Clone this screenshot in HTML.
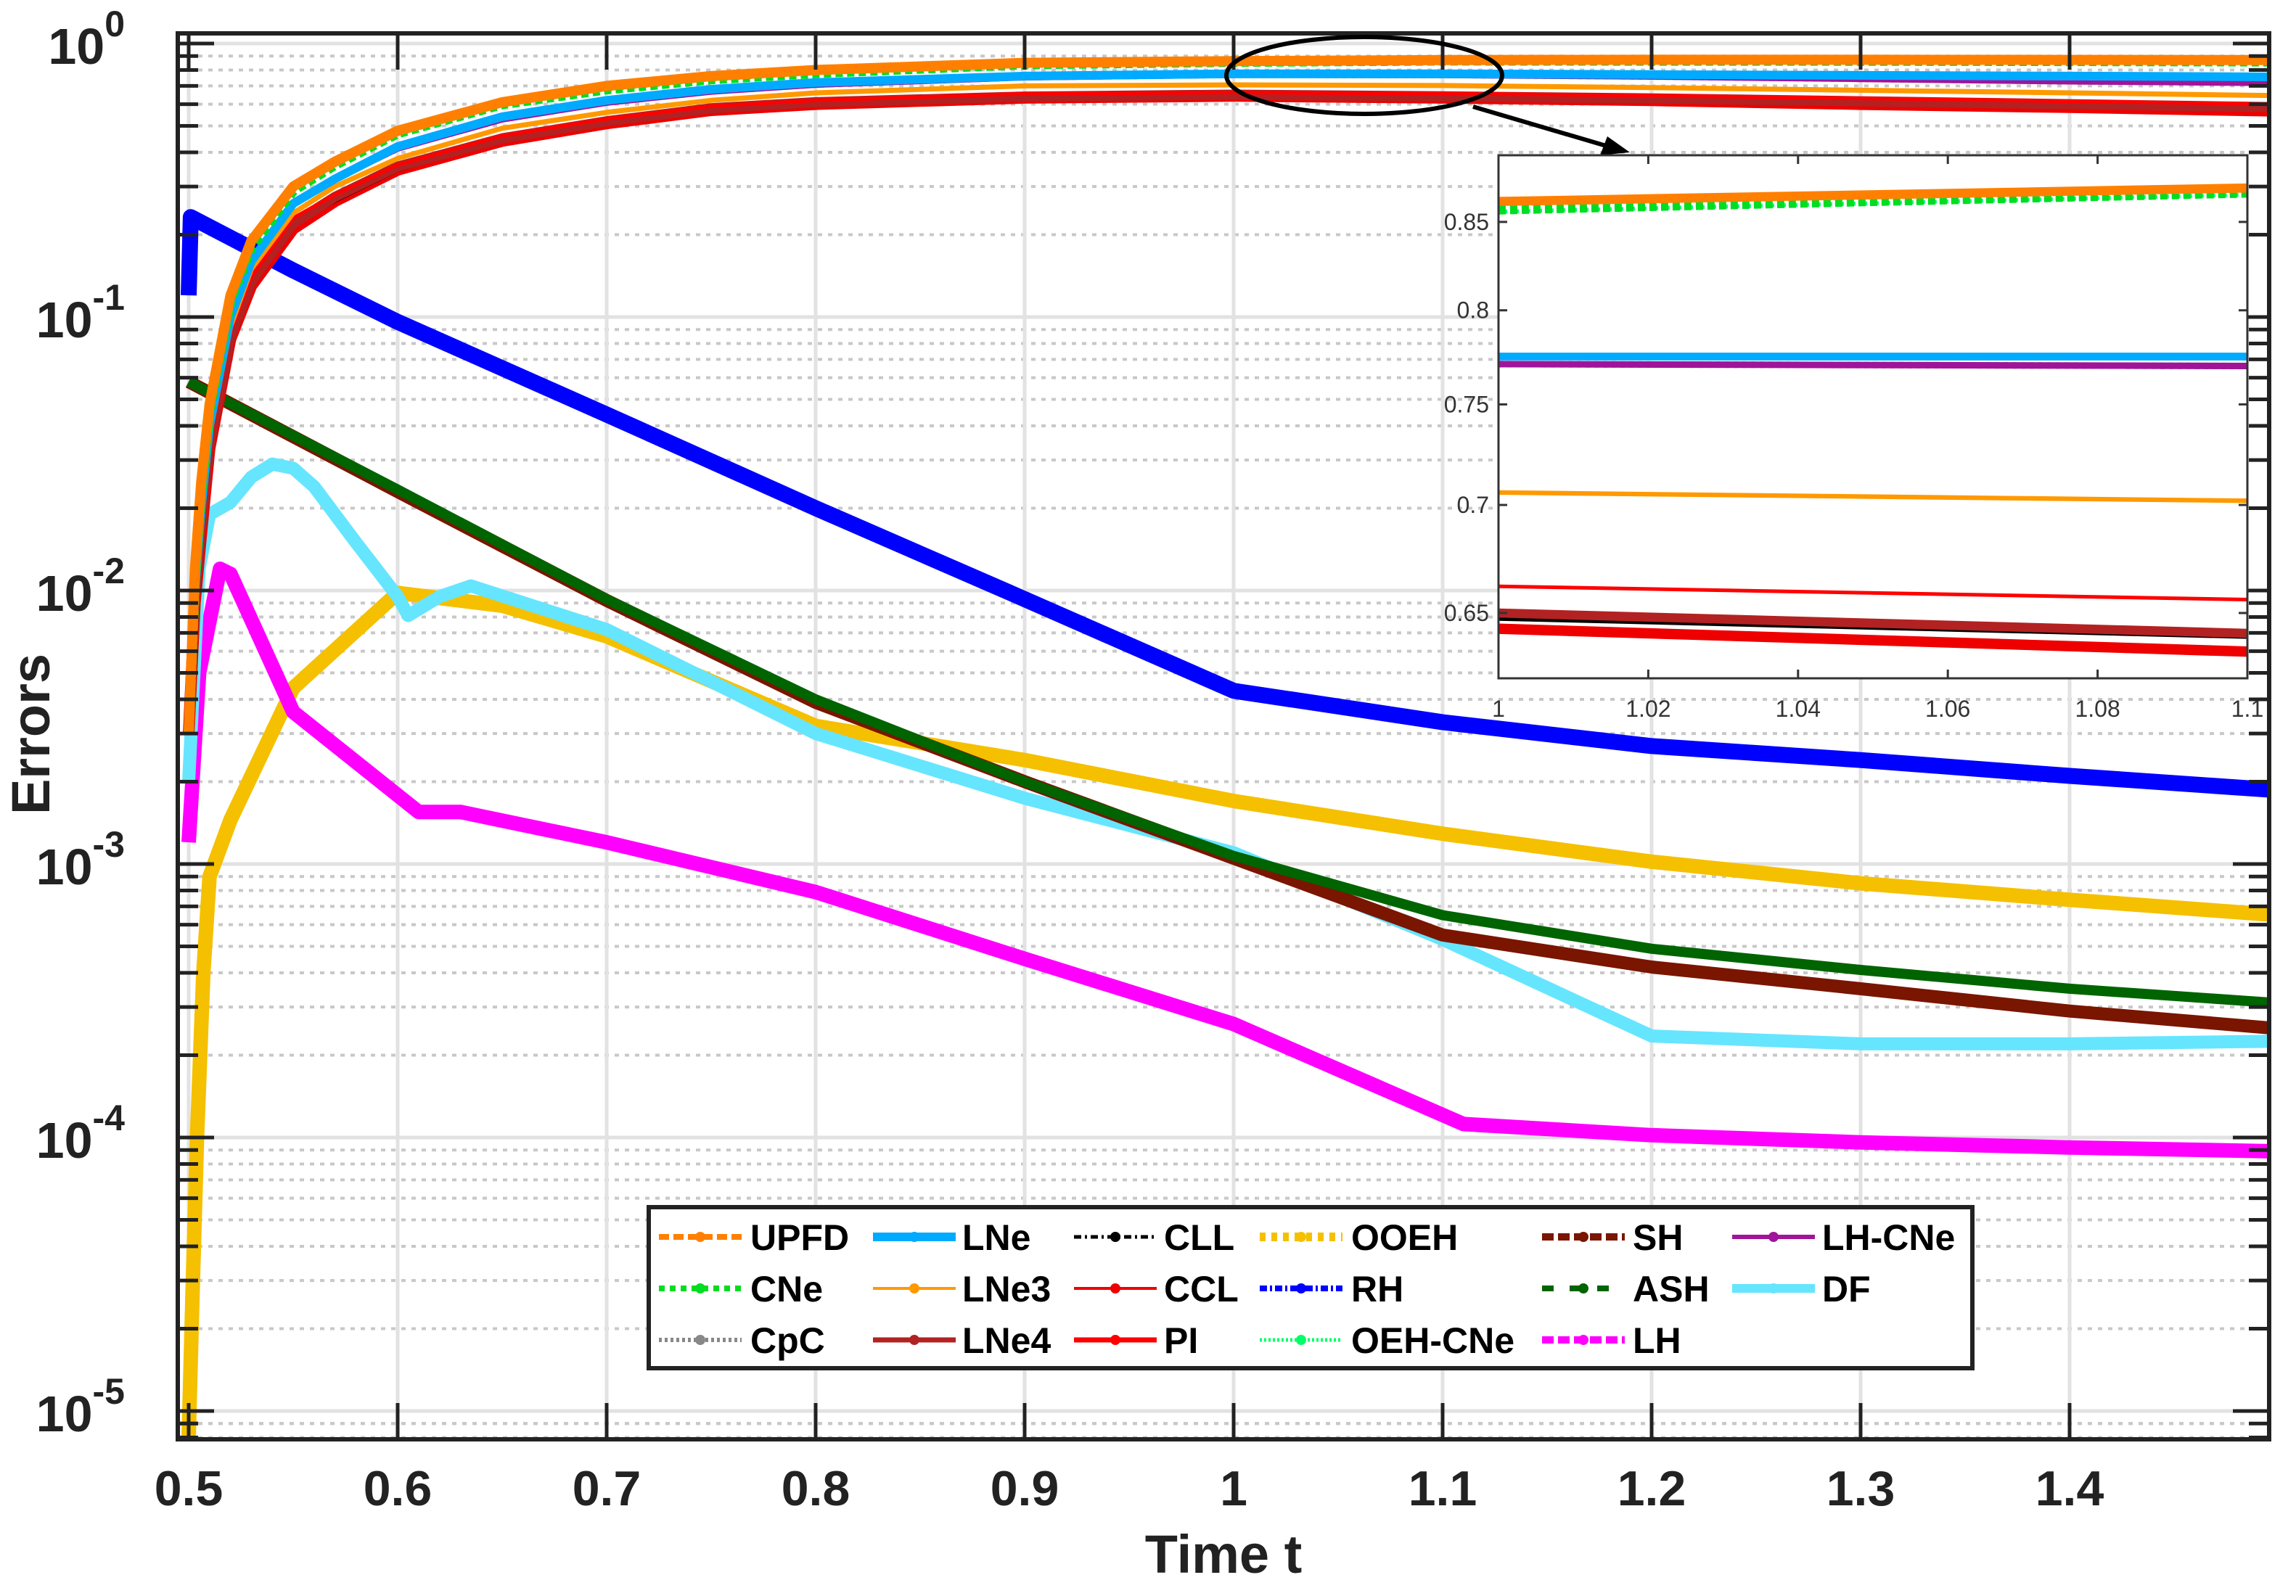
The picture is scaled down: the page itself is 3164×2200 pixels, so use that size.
<!DOCTYPE html>
<html><head><meta charset="utf-8"><style>
html,body{margin:0;padding:0;background:#fff;width:3164px;height:2200px;overflow:hidden}
svg{display:block}
text{font-family:"Liberation Sans",Arial,sans-serif}
</style></head><body>
<svg id="chart" width="3164" height="2200" viewBox="0 0 3164 2200" xmlns="http://www.w3.org/2000/svg">
<defs>
<clipPath id="plotClip"><rect x="245" y="46" width="2882" height="1938"/></clipPath>
<clipPath id="insetClip"><rect x="2065" y="214" width="1032" height="721"/></clipPath>
</defs>
<rect x="0" y="0" width="3164" height="2200" fill="#fff"/>
<g id="grid"></g>
<g id="series" clip-path="url(#plotClip)"></g>
<g id="axes"></g>
<g id="inset"></g>
<g id="legend"></g>
</svg>
<script>
// ---------- data ----------
const xTicks = [0.5,0.6,0.7,0.8,0.9,1.0,1.1,1.2,1.3,1.4];
const xTickLabels = ["0.5","0.6","0.7","0.8","0.9","1","1.1","1.2","1.3","1.4"];
const yDecades = [0,-1,-2,-3,-4,-5];
const insetYTicks = [0.85,0.8,0.75,0.7,0.65];
const insetYLabels = ["0.85","0.8","0.75","0.7","0.65"];
const insetXTicks = [1,1.02,1.04,1.06,1.08,1.1];
const insetXLabels = ["1","1.02","1.04","1.06","1.08","1.1"];

const tUp = [0.5,0.503,0.506,0.51,0.52,0.53,0.55,0.57,0.6,0.65,0.7,0.75,0.8,0.9,1.0,1.1,1.2,1.3,1.4,1.5];
const valUPFD  = [0.003,0.012,0.025,0.048,0.12,0.19,0.30,0.37,0.48,0.61,0.70,0.76,0.80,0.85,0.862,0.870,0.872,0.872,0.871,0.870];
const valCNe   = [0.003,0.011,0.023,0.045,0.115,0.18,0.29,0.36,0.47,0.60,0.68,0.74,0.78,0.84,0.857,0.867,0.866,0.865,0.863,0.860];
const valOEHCNe= [0.003,0.011,0.023,0.045,0.114,0.18,0.29,0.36,0.47,0.60,0.68,0.74,0.78,0.84,0.856,0.866,0.865,0.864,0.862,0.859];
const valLNe   = [0.003,0.010,0.020,0.040,0.100,0.16,0.26,0.32,0.42,0.54,0.62,0.68,0.72,0.76,0.775,0.775,0.770,0.765,0.760,0.755];
const valLHCNe = [0.003,0.010,0.020,0.040,0.100,0.16,0.26,0.32,0.415,0.53,0.61,0.67,0.71,0.755,0.771,0.770,0.760,0.745,0.730,0.720];
const valCpC   = [0.003,0.010,0.020,0.040,0.100,0.16,0.26,0.32,0.415,0.53,0.61,0.67,0.71,0.755,0.771,0.770,0.760,0.745,0.730,0.720];
const valLNe3  = [0.003,0.010,0.019,0.037,0.092,0.15,0.24,0.30,0.38,0.49,0.56,0.62,0.66,0.70,0.706,0.702,0.690,0.675,0.660,0.645];
const valPI    = [0.003,0.009,0.018,0.035,0.088,0.14,0.23,0.28,0.36,0.46,0.53,0.59,0.62,0.655,0.662,0.656,0.645,0.630,0.615,0.600];
const valLNe4  = [0.003,0.009,0.017,0.034,0.085,0.135,0.22,0.275,0.355,0.45,0.52,0.58,0.61,0.64,0.650,0.641,0.630,0.615,0.600,0.585];
const valCLL   = [0.003,0.009,0.017,0.034,0.084,0.133,0.22,0.27,0.35,0.45,0.52,0.575,0.61,0.638,0.648,0.640,0.628,0.612,0.595,0.580];
const valCCL   = [0.003,0.009,0.016,0.033,0.083,0.13,0.21,0.265,0.345,0.44,0.51,0.57,0.60,0.633,0.643,0.633,0.620,0.600,0.585,0.567];

const tRH = [0.5,0.501,0.55,0.6,0.7,0.8,0.9,1.0,1.1,1.2,1.3,1.4,1.5];
const valRH = [0.12,0.232,0.148,0.096,0.044,0.020,0.0093,0.0043,0.0033,0.0027,0.0024,0.0021,0.00186];

const tASH = [0.5,0.6,0.7,0.8,0.9,1.0,1.1,1.2,1.3,1.4,1.5];
const valASH = [0.058,0.0234,0.0093,0.0040,0.0020,0.00107,0.00065,0.00049,0.00041,0.00035,0.00031];
const valSH  = [0.058,0.0230,0.0092,0.0039,0.0020,0.00105,0.00055,0.00042,0.00035,0.00029,0.00025];

const tDF = [0.5,0.505,0.51,0.52,0.53,0.54,0.55,0.56,0.58,0.6,0.605,0.62,0.635,0.7,0.8,0.9,1.0,1.1,1.2,1.3,1.4,1.5];
const valDF = [0.002,0.012,0.019,0.021,0.026,0.029,0.028,0.024,0.015,0.0095,0.0081,0.0095,0.0104,0.0072,0.0030,0.00174,0.0011,0.00053,0.000235,0.00022,0.00022,0.000225];

const tOOEH = [0.5,0.502,0.504,0.507,0.51,0.52,0.55,0.6,0.65,0.7,0.8,0.9,1.0,1.1,1.2,1.3,1.4,1.5];
const valOOEH = [0.000008,0.00003,0.0001,0.0004,0.0009,0.00145,0.0044,0.0098,0.0088,0.0068,0.0032,0.0024,0.0017,0.00129,0.00102,0.00085,0.00074,0.00065];

const tLH = [0.5,0.505,0.515,0.52,0.55,0.61,0.63,0.7,0.8,0.9,1.0,1.11,1.2,1.3,1.4,1.5];
const valLH = [0.0012,0.005,0.012,0.0115,0.0036,0.00155,0.00155,0.0012,0.00079,0.00045,0.00026,0.000112,0.000102,0.000096,0.000092,0.000089];

// ---------- scales ----------
const X0=260, XS=2880;
const Y0=60, YD=377;
function xs(t){return X0+(t-0.5)*XS;}
function ys(v){return Y0-Math.log10(v)*YD;}
const IX0=2065, IXW=1032, IY0=306, IYD=4627;
function ixs(t){return IX0+(t-1)/0.1*IXW;}
function iys(v){return IY0+IYD*(-0.0706-Math.log10(v));}

const NS="http://www.w3.org/2000/svg";
function mk(tag,attrs,parent){const e=document.createElementNS(NS,tag);for(const k in attrs)e.setAttribute(k,attrs[k]);parent.appendChild(e);return e;}

const grid=document.getElementById('grid');
const axes=document.getElementById('axes');
const series=document.getElementById('series');
const inset=document.getElementById('inset');
const legend=document.getElementById('legend');
const L=245,R=3127,T=46,B=1984;

for(let d=0; d>=-5; d--){
  const y=ys(Math.pow(10,d));
  const gl=mk('line',{x1:L,x2:R,y1:y,y2:y,stroke:'#e2e2e2','stroke-width':5},grid);
  
  
  for(let m=2;m<=9;m++){
    const yy=ys(m*Math.pow(10,d-1));
    if(yy<T||yy>B) continue;
    const ml=mk('line',{x1:L,x2:R,y1:yy,y2:yy,stroke:'#c8c8c8','stroke-width':4,'stroke-dasharray':'6 8'},grid);
    
    
  }
}
for(let m=2;m<=9;m++){
  const yy=ys(m*1e-6); if(yy<T||yy>B) continue;
  const ml=mk('line',{x1:L,x2:R,y1:yy,y2:yy,stroke:'#c8c8c8','stroke-width':4,'stroke-dasharray':'6 8'},grid);
  
  
}
xTicks.forEach(t=>{
  const x=xs(t);
  const vl=mk('line',{x1:x,x2:x,y1:T,y2:B,stroke:'#e2e2e2','stroke-width':5},grid);
  
  
});

function path(ts,vs,fx,fy){return ts.map((t,i)=>(i?'L':'M')+fx(t).toFixed(1)+' '+fy(vs[i]).toFixed(1)).join(' ');}
const mainSeries=[
 {n:'OOEH',t:tOOEH,v:valOOEH,c:'#f5c000',w:20,d:''},
 {n:'LH',t:tLH,v:valLH,c:'#ff00ff',w:20,d:''},
 {n:'DF',t:tDF,v:valDF,c:'#66e5ff',w:18,d:''},
 {n:'SH',t:tASH,v:valSH,c:'#7a1500',w:18,d:''},
 {n:'ASH',t:tASH,v:valASH,c:'#006400',w:14,d:''},
 {n:'RH',t:tRH,v:valRH,c:'#0000ff',w:22,d:''},
 {n:'CCL',t:tUp,v:valCCL,c:'#ee0000',w:16,d:''},
 {n:'CLL',t:tUp,v:valCLL,c:'#000000',w:10,d:''},
 {n:'LNe4',t:tUp,v:valLNe4,c:'#b22222',w:14,d:''},
 {n:'PI',t:tUp,v:valPI,c:'#ff0000',w:5,d:''},
 {n:'LNe3',t:tUp,v:valLNe3,c:'#ff9900',w:7,d:''},
 {n:'CpC',t:tUp,v:valCpC,c:'#888888',w:10,d:'6 6'},
 {n:'LH-CNe',t:tUp,v:valLHCNe,c:'#a0149a',w:10,d:''},
 {n:'LNe',t:tUp,v:valLNe,c:'#00aaff',w:12,d:''},
 {n:'OEH-CNe',t:tUp,v:valOEHCNe,c:'#00ff66',w:6,d:'4 4'},
 {n:'CNe',t:tUp,v:valCNe,c:'#00dd22',w:14,d:'10 6'},
 {n:'UPFD',t:tUp,v:valUPFD,c:'#ff8000',w:14,d:''}
];
mainSeries.forEach(s=>{
  const p=mk('path',{d:path(s.t,s.v,xs,ys),fill:'none',stroke:s.c,'stroke-width':s.w,'stroke-linejoin':'round','stroke-dasharray':s.d||'none'},series);
  
  
});

const fr=mk('rect',{x:L,y:T,width:R-L,height:B-T,fill:'none',stroke:'#222','stroke-width':6},axes);


xTicks.forEach((t,i)=>{
  const x=xs(t);
  mk('line',{x1:x,x2:x,y1:B,y2:B-50,stroke:'#222','stroke-width':5},axes);
  mk('line',{x1:x,x2:x,y1:T,y2:T+50,stroke:'#222','stroke-width':5},axes);
  const tx=mk('text',{x:x,y:2075,'font-size':68,'font-weight':'bold','text-anchor':'middle',fill:'#222'},axes);
  tx.textContent=xTickLabels[i];
  
  
});
yDecades.forEach(d=>{
  const y=ys(Math.pow(10,d));
  mk('line',{x1:L,x2:L+50,y1:y,y2:y,stroke:'#222','stroke-width':5},axes);
  mk('line',{x1:R,x2:R-50,y1:y,y2:y,stroke:'#222','stroke-width':5},axes);
  for(let m=2;m<=9;m++){const yy=ys(m*Math.pow(10,d-1)); if(yy<T||yy>B) continue;
    mk('line',{x1:L,x2:L+28,y1:yy,y2:yy,stroke:'#222','stroke-width':5},axes);
    mk('line',{x1:R,x2:R-28,y1:yy,y2:yy,stroke:'#222','stroke-width':5},axes);}
  const tx=mk('text',{x:172,y:y+28,'font-size':70,'font-weight':'bold','text-anchor':'end',fill:'#222'},axes);
  
  
  tx.textContent='10';
  const sp=mk('tspan',{dy:-38,'font-size':50},tx); sp.textContent=String(d);
});
for(let m=2;m<=9;m++){const yy=ys(m*1e-6); if(yy<T||yy>B) continue;
  mk('line',{x1:L,x2:L+28,y1:yy,y2:yy,stroke:'#222','stroke-width':5},axes);}
const xl=mk('text',{x:1686,y:2168,'font-size':74,'font-weight':'bold','text-anchor':'middle',fill:'#222'},axes);
xl.textContent='Time t';


const yl=mk('text',{x:0,y:0,'font-size':74,'font-weight':'bold','text-anchor':'middle',fill:'#222',transform:'translate(68,1012) rotate(-90)'},axes);
yl.textContent='Errors';



const el=mk('ellipse',{cx:1880,cy:104,rx:190,ry:53,fill:'none',stroke:'#000','stroke-width':6},axes);


const ar=mk('line',{x1:2030,y1:147,x2:2220,y2:203,stroke:'#000','stroke-width':6},axes);


mk('polygon',{points:'2246,210 2205,214 2215,188',fill:'#000'},axes);

const ib=mk('rect',{x:IX0,y:214,width:IXW,height:721,fill:'#fff',stroke:'#333','stroke-width':3},inset);


const ig=mk('g',{'clip-path':'url(#insetClip)'},inset);
mainSeries.forEach(s=>{
  if(s.t!==tUp) return;
  const ts=[],vs=[];
  s.t.forEach((t,i)=>{ if(t>=0.999 && t<=1.101){ts.push(t);vs.push(s.v[i]);} });
  const p=mk('path',{d:path(ts,vs,ixs,iys),fill:'none',stroke:s.c,'stroke-width':Math.max(5,s.w*0.9),'stroke-dasharray':s.d||'none'},ig);
  
  
});
mk('rect',{x:IX0,y:214,width:IXW,height:721,fill:'none',stroke:'#333','stroke-width':3},inset);
insetYTicks.forEach((v,i)=>{
  const y=iys(v);
  mk('line',{x1:IX0,x2:IX0+12,y1:y,y2:y,stroke:'#333','stroke-width':3},inset);
  mk('line',{x1:IX0+IXW,x2:IX0+IXW-12,y1:y,y2:y,stroke:'#333','stroke-width':3},inset);
  const tx=mk('text',{x:2052,y:y+11,'font-size':32,'text-anchor':'end',fill:'#333'},inset);
  tx.textContent=insetYLabels[i];
  
  
});
insetXTicks.forEach((t,i)=>{
  const x=ixs(t);
  mk('line',{x1:x,x2:x,y1:935,y2:923,stroke:'#333','stroke-width':3},inset);
  mk('line',{x1:x,x2:x,y1:214,y2:226,stroke:'#333','stroke-width':3},inset);
  const tx=mk('text',{x:x,y:988,'font-size':32,'text-anchor':'middle',fill:'#333'},inset);
  tx.textContent=insetXLabels[i];
  
  
});

const lb=mk('rect',{x:894,y:1664,width:1824,height:222,fill:'#fff',stroke:'#222','stroke-width':6},legend);


const legItems=[
 ['UPFD','#ff8000',8,'14 6'],['LNe','#00aaff',12,''],['CLL','#000',5,'10 5 3 5'],['OOEH','#f5c000',12,'8 8'],['SH','#7a1500',10,'16 6'],['LH-CNe','#a0149a',6,''],
 ['CNe','#00dd22',8,'8 7'],['LNe3','#ff9900',4,''],['CCL','#ee0000',4,''],['RH','#0000ff',8,'10 4 3 4'],['ASH','#006400',8,'16 22'],['DF','#66e5ff',12,''],
 ['CpC','#888',6,'4 4'],['LNe4','#b22222',7,''],['PI','#ff0000',7,''],['OEH-CNe','#00ff66',5,'3 3'],['LH','#ff00ff',10,'16 6']
];
const colLine=[908,1203,1480,1736,2125,2387];
const colText=[1034,1326,1604,1862,2250,2511];
const rowY=[1705,1776,1847];
legItems.forEach((it,i)=>{
  const r=Math.floor(i/6), c=i%6;
  const g=mk('g',{},legend);
  
  
  mk('line',{x1:colLine[c],x2:colLine[c]+114,y1:rowY[r],y2:rowY[r],stroke:it[1],'stroke-width':it[2],'stroke-dasharray':it[3]||'none'},g);
  mk('circle',{cx:colLine[c]+57,cy:rowY[r],r:7,fill:it[1]},g);
  const tx=mk('text',{x:colText[c],y:rowY[r]+18,'font-size':50,'font-weight':'bold',fill:'#000'},g);
  tx.textContent=it[0];
});
</script>
</body></html>
